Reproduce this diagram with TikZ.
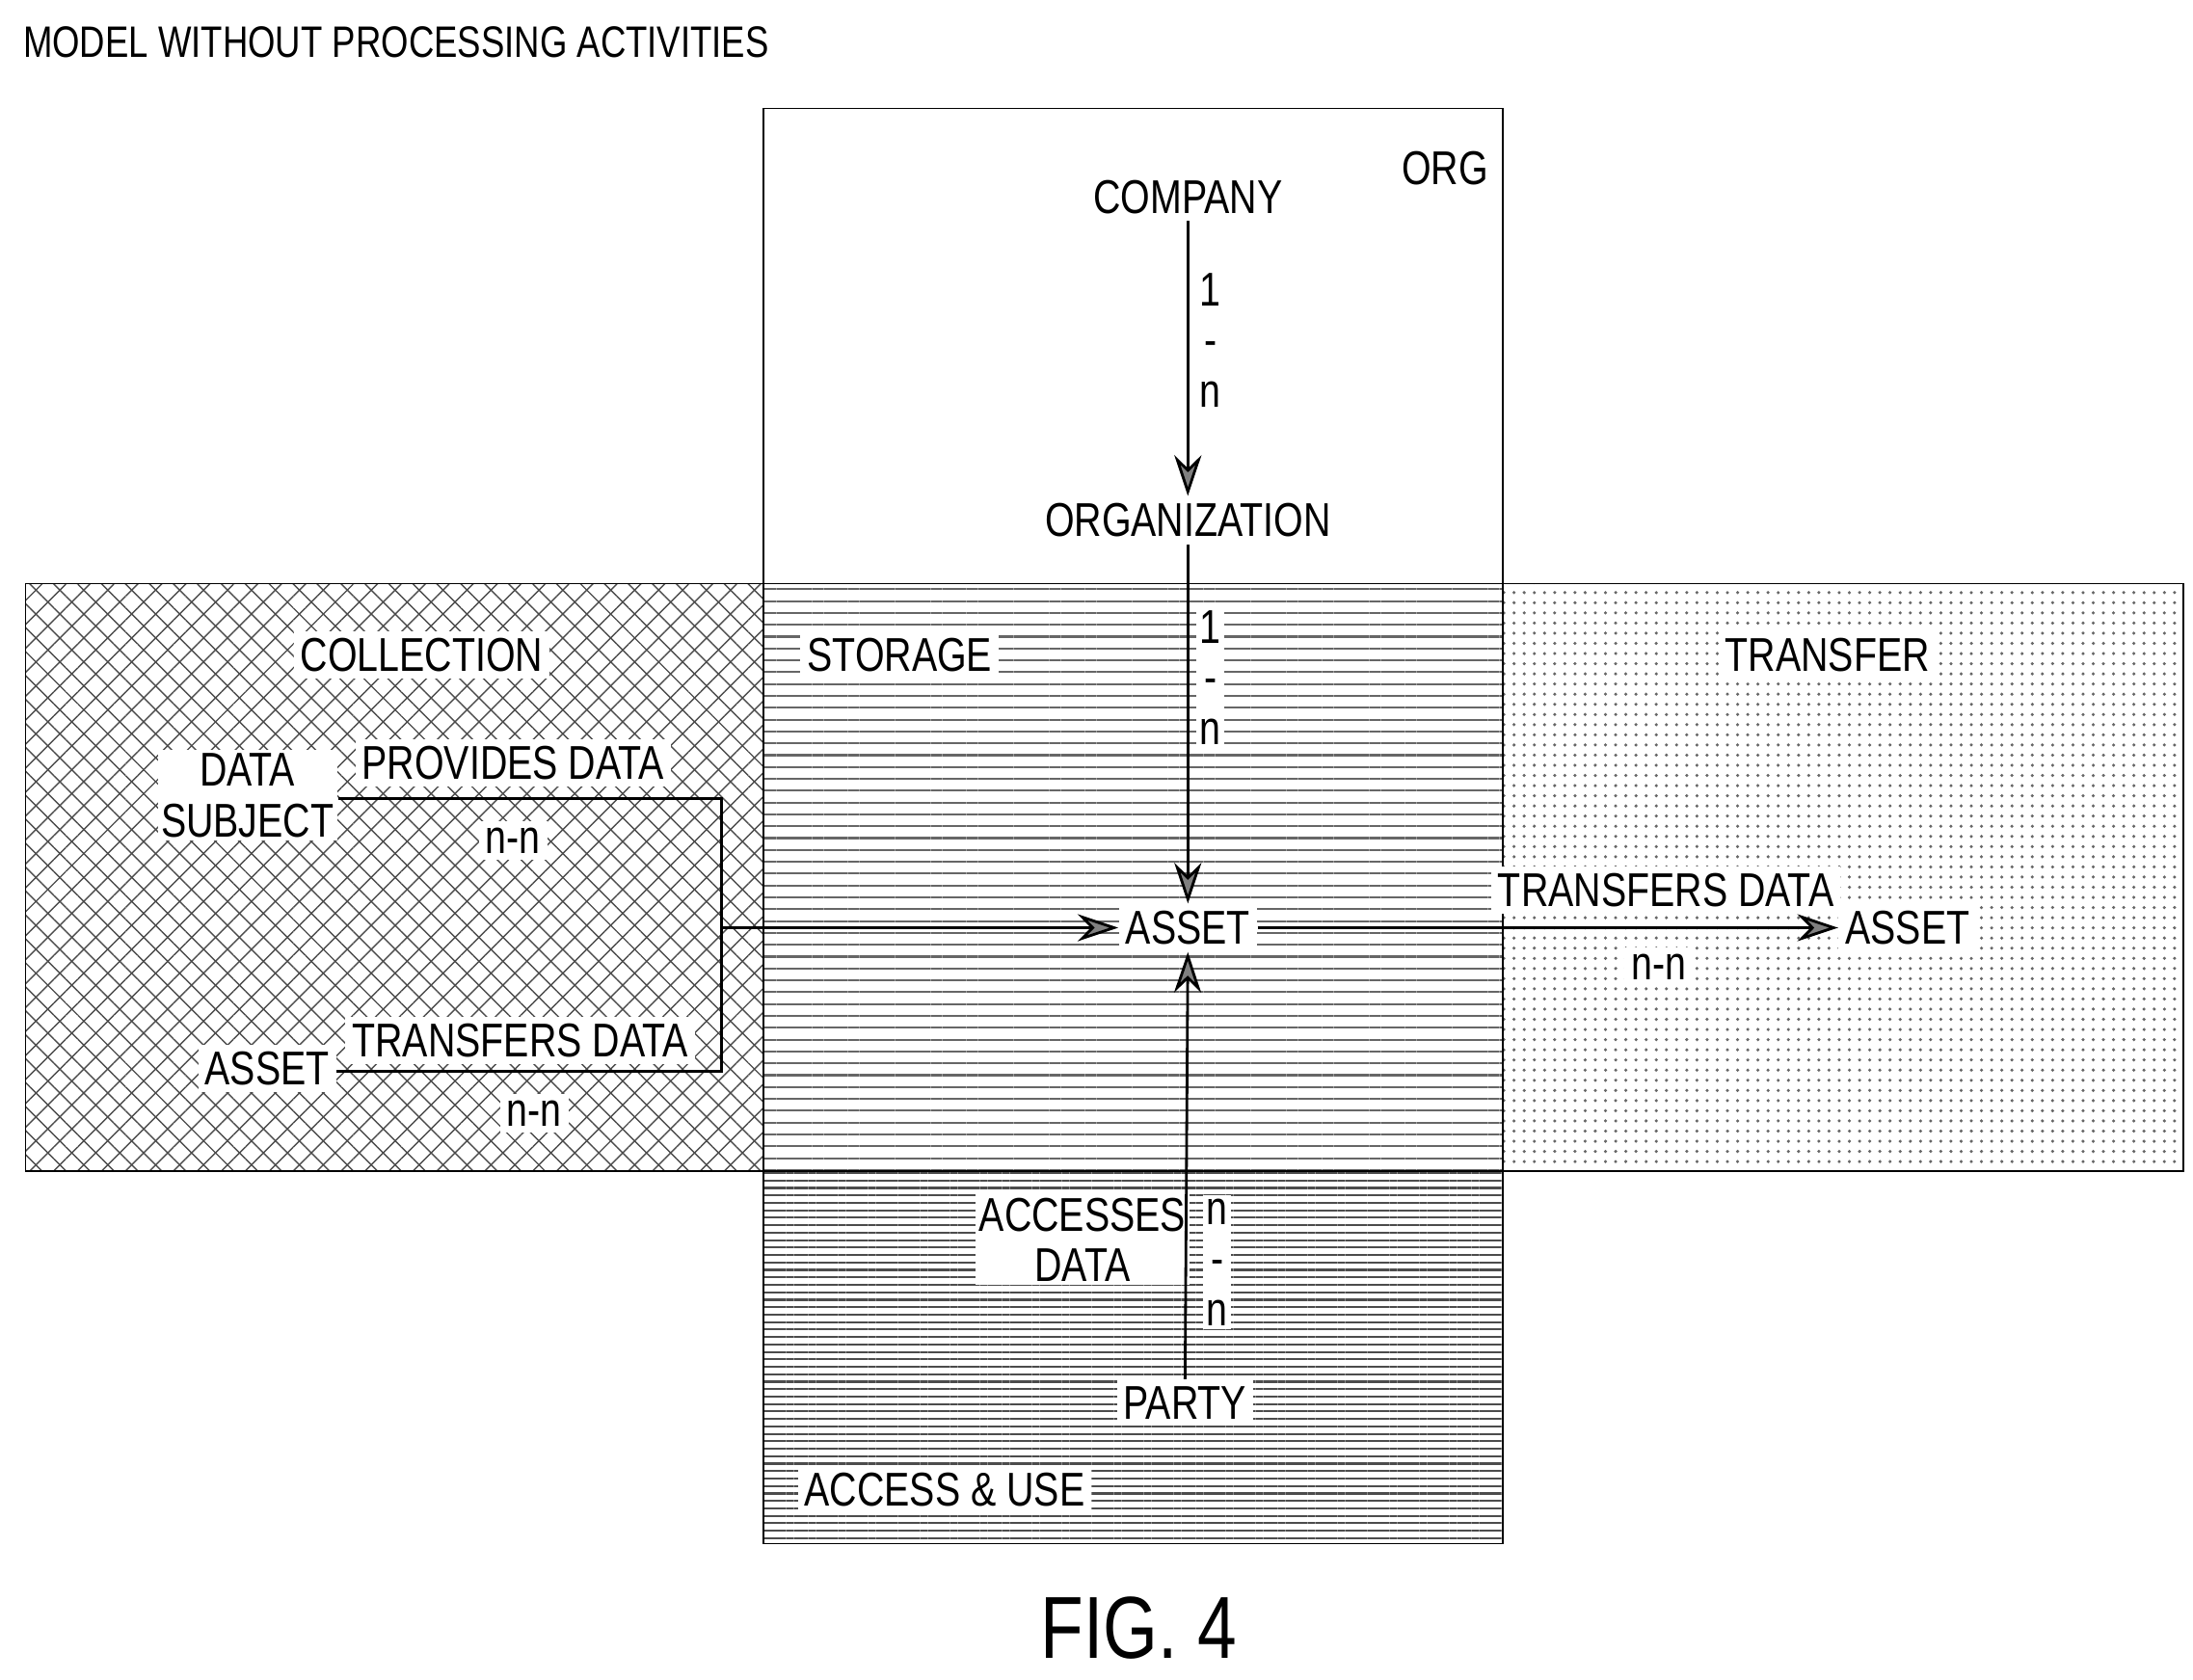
\documentclass[tikz,border=0pt]{standalone}
\usepackage{fontspec}
\setmainfont{Liberation Sans}[FakeStretch=0.8]
\usetikzlibrary{patterns.meta,arrows.meta}
\begin{document}
\begin{tikzpicture}[x=0.014583cm,y=-0.014583cm,
    lbl/.style={fill=white,inner sep=2pt,font=\fontsize{14}{16}\selectfont},
    card/.style={fill=white,inner sep=1pt,font=\fontsize{14}{15}\selectfont,align=center},
    arr/.style={-{Stealth[length=12pt,width=8pt,fill=gray]},thick}]
    \useasboundingbox (0,0) rectangle (1560,1195);
    % regions
    \draw[pattern={Lines[angle=45,distance=5pt,line width=0.4pt]},pattern color=black!70] (18,415) rectangle (543,833);
    \draw[pattern={Lines[angle=-45,distance=5pt,line width=0.4pt]},pattern color=black!70] (18,415) rectangle (543,833);
    \draw[pattern={Lines[angle=0,distance=3.5pt,line width=0.6pt]},pattern color=black!60] (543,415) rectangle (1069,833);
    \draw[pattern={Dots[distance=3pt,radius=0.5pt]},pattern color=black!60] (1069,415) rectangle (1553,833);
    \draw[pattern={Lines[angle=0,distance=2.2pt,line width=0.6pt]},pattern color=black!70] (543,833) rectangle (1069,1098);
    \draw (543,77) rectangle (1069,1098);
    % texts
    \node[anchor=west,font=\fontsize{13}{15}\selectfont] (title) at (8,30) {MODEL WITHOUT PROCESSING ACTIVITIES};
    \node[lbl] (org) at (1028,120) {ORG};
    \node[lbl] (coll) at (300,466) {COLLECTION};
    \node[lbl] (stor) at (640,466) {STORAGE};
    \node[lbl] (trans) at (1300,466) {TRANSFER};
    \node[lbl] (acc) at (672,1060) {ACCESS \& USE};
    \node[lbl] (comp) at (845,140) {COMPANY};
    \node[lbl] (orgn) at (845,370) {ORGANIZATION};
    \node[lbl] (asset) at (845,660) {ASSET};
    \node[lbl] (party) at (843,998) {PARTY};
    \node[card] (subj) at (176,566) {DATA\\SUBJECT};
    \node[lbl] (asset1) at (190,760) {ASSET};
    \node[lbl] (asset2) at (1357,660) {ASSET};
    \node[lbl] (prov) at (365,543) {PROVIDES DATA};
    \node[lbl] (nn1) at (365,598) {n-n};
    \node[lbl] (tr1) at (370,740) {TRANSFERS DATA};
    \node[lbl] (nn2) at (380,792) {n-n};
    \node[lbl] (tr2) at (1185,633) {TRANSFERS DATA};
    \node[lbl] (nn3) at (1180,688) {n-n};
    \node[card] (accd) at (770,882) {ACCESSES\\DATA};
    \node[card] (c1) at (861,242) {1\\-\\n};
    \node[card] (c2) at (861,482) {1\\-\\n};
    \node[card] (c3) at (866,898) {n\\-\\n};
    \node[font=\fontsize{26}{28}\selectfont] (fig) at (810,1158) {FIG. 4};
    % connectors
    \coordinate (j1) at (513,568);
    \coordinate (j2) at (513,762);
    \coordinate (j3) at (513,660);
    \draw[thick] (subj.east |- j1) -- (j1) -- (j2) -- (asset1.east |- j2);
    \draw[arr] (j3) -- (asset.west);
    \draw[arr] (asset.east) -- (asset2.west);
    \draw[arr] (comp.south) -- (orgn.north);
    \draw[arr] (orgn.south) -- (asset.north);
    \draw[arr] (party.north) -- (asset.south);
\end{tikzpicture}
\end{document}
